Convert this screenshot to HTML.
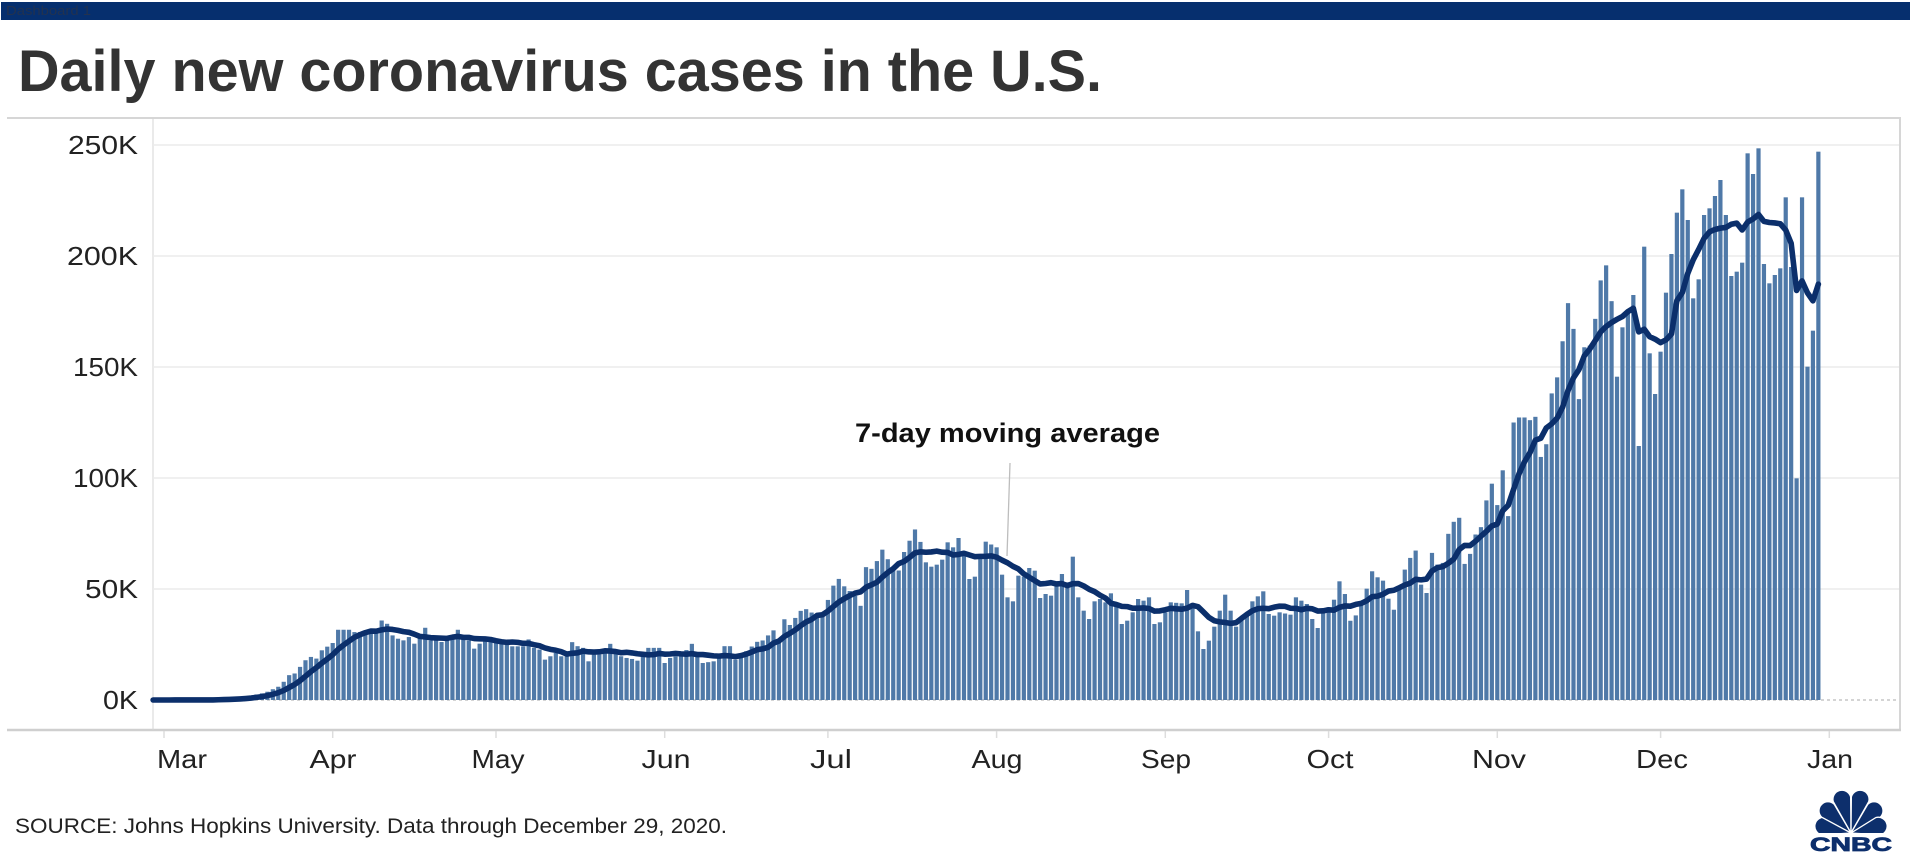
<!DOCTYPE html>
<html>
<head>
<meta charset="utf-8">
<title>Daily new coronavirus cases in the U.S.</title>
<style>
html,body{margin:0;padding:0;background:#fff;}
body{width:1910px;height:860px;overflow:hidden;}
svg{display:block;}
text{font-family:"Liberation Sans",Arial,sans-serif;}
</style>
</head>
<body>
<svg id="c" width="1910" height="860" viewBox="0 0 1910 860" xmlns="http://www.w3.org/2000/svg">
  <rect x="0" y="0" width="1910" height="860" fill="#ffffff"/>
  <!-- top bar -->
  <rect x="1" y="2" width="1909" height="18" fill="#062f6e"/>
  <text x="6" y="15" font-size="13" fill="#22324f" textLength="85" lengthAdjust="spacingAndGlyphs">Dashboard 1</text>

  <!-- title -->
  <text x="18" y="91" font-size="58" font-weight="bold" fill="#333333" textLength="1084" lengthAdjust="spacingAndGlyphs">Daily new coronavirus cases in the U.S.</text>

  <!-- frame -->
  <line x1="7" y1="118" x2="1901" y2="118" stroke="#d6d6d6" stroke-width="2"/>
  <line x1="1900" y1="118" x2="1900" y2="731" stroke="#d6d6d6" stroke-width="2"/>
  <line x1="7" y1="730" x2="1901" y2="730" stroke="#cfcfcf" stroke-width="2.5"/>
  <line x1="153" y1="118" x2="153" y2="730" stroke="#d4d4d4" stroke-width="1"/>

  <!-- gridlines -->
  <g stroke="#ececec" stroke-width="1.5">
    <line x1="153" y1="145" x2="1899" y2="145"/>
    <line x1="153" y1="256" x2="1899" y2="256"/>
    <line x1="153" y1="367" x2="1899" y2="367"/>
    <line x1="153" y1="478" x2="1899" y2="478"/>
    <line x1="153" y1="589" x2="1899" y2="589"/>
  </g>
  <line x1="153" y1="700" x2="1898" y2="700" stroke="#a8a8a8" stroke-width="1" stroke-dasharray="3,3"/>

  <!-- y labels -->
  <g font-size="26" fill="#222222" text-anchor="end">
    <text x="138" y="154" textLength="70" lengthAdjust="spacingAndGlyphs">250K</text>
    <text x="138" y="265" textLength="71" lengthAdjust="spacingAndGlyphs">200K</text>
    <text x="138" y="376" textLength="65" lengthAdjust="spacingAndGlyphs">150K</text>
    <text x="138" y="487" textLength="65" lengthAdjust="spacingAndGlyphs">100K</text>
    <text x="138" y="598" textLength="53" lengthAdjust="spacingAndGlyphs">50K</text>
    <text x="138" y="709" textLength="35" lengthAdjust="spacingAndGlyphs">0K</text>
  </g>

  <!-- month ticks -->
  <g stroke="#dddddd" stroke-width="1.5">
    <line x1="164" y1="731" x2="164" y2="738"/>
    <line x1="332.7" y1="731" x2="332.7" y2="738"/>
    <line x1="496" y1="731" x2="496" y2="738"/>
    <line x1="664.7" y1="731" x2="664.7" y2="738"/>
    <line x1="827.9" y1="731" x2="827.9" y2="738"/>
    <line x1="996.6" y1="731" x2="996.6" y2="738"/>
    <line x1="1165.3" y1="731" x2="1165.3" y2="738"/>
    <line x1="1328.6" y1="731" x2="1328.6" y2="738"/>
    <line x1="1497.3" y1="731" x2="1497.3" y2="738"/>
    <line x1="1660.6" y1="731" x2="1660.6" y2="738"/>
    <line x1="1829.3" y1="731" x2="1829.3" y2="738"/>
  </g>

  <!-- month labels -->
  <g font-size="26" fill="#222222">
    <text x="157" y="768" textLength="50" lengthAdjust="spacingAndGlyphs">Mar</text>
    <g text-anchor="middle">
      <text x="333" y="768" textLength="47" lengthAdjust="spacingAndGlyphs">Apr</text>
      <text x="498" y="768" textLength="53" lengthAdjust="spacingAndGlyphs">May</text>
      <text x="666" y="768" textLength="49" lengthAdjust="spacingAndGlyphs">Jun</text>
      <text x="831" y="768" textLength="42" lengthAdjust="spacingAndGlyphs">Jul</text>
      <text x="997" y="768" textLength="51" lengthAdjust="spacingAndGlyphs">Aug</text>
      <text x="1166" y="768" textLength="50" lengthAdjust="spacingAndGlyphs">Sep</text>
      <text x="1330" y="768" textLength="47" lengthAdjust="spacingAndGlyphs">Oct</text>
      <text x="1499" y="768" textLength="54" lengthAdjust="spacingAndGlyphs">Nov</text>
      <text x="1662" y="768" textLength="52" lengthAdjust="spacingAndGlyphs">Dec</text>
      <text x="1830" y="768" textLength="46" lengthAdjust="spacingAndGlyphs">Jan</text>
    </g>
  </g>

  <!-- bars and moving average (filled by script) -->
  <g id="bars" fill="#4f79a8"></g>
  <path id="ma" d="" fill="none" stroke="#0b2f6b" stroke-width="5.6" stroke-linejoin="round" stroke-linecap="round"/>

  <!-- annotation -->
  <line x1="1010" y1="463" x2="1007" y2="556" stroke="#bdbdbd" stroke-width="1.3"/>
  <text x="855" y="442" font-size="27" font-weight="bold" fill="#111111" textLength="305" lengthAdjust="spacingAndGlyphs">7-day moving average</text>

  <!-- source -->
  <text x="15" y="833" font-size="21" fill="#222222" textLength="712" lengthAdjust="spacingAndGlyphs">SOURCE: Johns Hopkins University. Data through December 29, 2020.</text>

  <!-- CNBC logo -->
  <defs>
    <clipPath id="lc"><rect x="1800" y="780" width="100" height="53"/></clipPath>
  </defs>
  <g clip-path="url(#lc)" fill="#0d2f6c" stroke="#ffffff" stroke-width="1.3">
    <path transform="translate(1851,833) rotate(-76)" d="M0,0 L-9,-28 A9,9 0 0 1 9,-28 Z"/>
    <path transform="translate(1851,833) rotate(-46)" d="M0,0 L-9,-32 A9,9 0 0 1 9,-32 Z"/>
    <path transform="translate(1851,833) rotate(-15)" d="M0,0 L-9,-35 A9,9 0 0 1 9,-35 Z"/>
    <path transform="translate(1851,833) rotate(15)" d="M0,0 L-9,-35 A9,9 0 0 1 9,-35 Z"/>
    <path transform="translate(1851,833) rotate(46)" d="M0,0 L-9,-32 A9,9 0 0 1 9,-32 Z"/>
    <path transform="translate(1851,833) rotate(76)" d="M0,0 L-9,-28 A9,9 0 0 1 9,-28 Z"/>
  </g>
  <text x="1810" y="851" font-size="19" font-weight="bold" fill="#0d2f6c" stroke="#0d2f6c" stroke-width="0.8" textLength="82" lengthAdjust="spacingAndGlyphs">CNBC</text>
</svg>

<script>
(function(){
  var NS = "http://www.w3.org/2000/svg";
  var X0 = 164, DX = 5.442, Y0 = 700, SY = 2.22;
  var Z = [
    [110, function(p){return (480-p)/335*50;}, [
      [465,455],[480,445],[500,440],[515,425],[530,405],[545,410],[560,400],[580,360],[595,350],[610,348],
      [625,355],[640,330],[660,308],[680,268],[695,268],[710,268],[725,263],[740,275],[760,275],[775,275],
      [795,270],[810,240],[825,250],[845,285],[860,295],[875,300],[890,290],[905,310],[920,290],[940,262],
      [955,300],[970,305],[985,300],[1000,305],[1020,285],[1035,257],[1050,268],[1070,300],[1085,325],[1100,318],
      [1115,310],[1130,298],[1150,295],[1165,250],[1180,305],[1200,318],[1215,318],[1230,318],[1245,318]
    ]],
    [500, function(p){return (595-p)/330*50;}, [
      [15,430],[30,440],[45,440],[60,440],[75,440],[90,415],[105,440],[120,445],[135,475],[150,465],
      [165,455],[180,465],[195,465],[210,423],[225,435],[245,440],[260,480],[275,460],[290,460],[305,445],
      [325,428],[340,445],[355,450],[370,465],[385,470],[400,473],[420,478],[435,455],[450,440],[470,440],
      [485,475],[500,485],[515,470],[530,465],[550,465],[570,428],[585,460],[600,478],[615,485],[635,480],
      [650,470],[665,445],[680,435],[695,435],[710,475],[730,465],[745,450],[765,422],[780,418],[795,395],
      [815,388],[830,420],[845,395],[860,355],[875,372],[895,330],[910,297],[925,325],[940,335],[960,340],
      [975,295],[995,255],[1010,235],[1025,257],[1040,295],[1060,285],[1075,315],[1090,200],[1110,205],[1125,182],
      [1140,148],[1155,195],[1175,205],[1190,210],[1205,155],[1220,150],[1240,88],[1255,125]
    ]],
    [900, function(p){return (868-p)/333*50;}, [
      [55,395],[70,455],[85,462],[95,468],[110,462],[125,447],[140,395],[155,410],[170,382],[185,430],
      [205,505],[220,498],[235,440],[250,393],[265,418],[285,410],[300,492],[315,560],[335,572],[350,495],
      [365,498],[380,472],[400,480],[415,562],[430,550],[445,555],[460,510],[480,490],[495,515],[515,438],
      [530,560],[545,600],[565,625],[580,572],[595,565],[610,575],[630,548],[645,585],[660,640],[675,630],
      [690,605],[710,565],[725,570],[740,560],[755,565],[770,640],[785,635],[805,575],[820,578],[840,578],
      [855,538],[870,582],[890,662],[905,715],[920,690],[935,648],[950,648],[970,552],[985,600],[1000,640],
      [1015,648],[1030,625],[1045,605],[1065,572],[1085,542],[1100,610],[1115,615],[1130,525],[1145,605],[1165,612],
      [1180,560],[1195,555],[1215,580],[1230,625],[1245,652],[1265,605],[1280,590]
    ]],
    [1320, function(p){return (1345-p)/332*50;}, [
      [22,1075],[40,1045],[57,990],[72,1028],[87,1108],[102,1092],[120,1062],[137,1012],[154,960],[170,978],
      [185,988],[202,1042],[218,1075],[235,1010],[250,955],[268,920],[285,898],[300,1000],[317,1025],[333,905],
      [350,940],[365,935],[380,848],[395,812],[412,800],[430,938],[447,908],[462,850],[480,828],[497,748],
      [512,698],[528,762],[545,658],[562,795],[580,515],[600,500],[612,500],[628,508],[643,498],[660,618],
      [677,580],[692,428],[707,380],[722,272],[740,158],[757,235],[775,445],[790,290],[807,285],[822,205],
      [838,90],[855,45],[872,152],[888,378]
    ]],
    [1590, function(p){return 250-(p-75)/333*50;}, [
      [95,622],[111,575],[128,525],[144,978],[158,380],[176,700],[193,822],[208,695],[222,518],[238,402],
      [255,278],[272,208],[290,300],[308,535],[322,478],[336,285],[352,265],[370,228],[388,180],[405,285],
      [422,468],[438,455],[452,428],[470,100],[487,162],[503,85],[522,432],[537,490],[552,465],[567,445],
      [585,232],[600,441],[617,1075],[633,232],[650,740],[665,632],[682,95]
    ]]
  ];
  var K0 = -2, K1 = 304, N = K1 - K0 + 1;
  var v = new Array(N);
  var early = [0.01,0.01,0.01,0.01,0.01,0.01,0.01,0.01,0.01,0.01,0.01,0.3,0.4,0.5,0.6,0.7,0.9,1.2,1.8,2.5,3.0];
  var i;
  for (i = 0; i < early.length; i++) v[i] = early[i];
  Z.forEach(function(z){
    z[2].forEach(function(p){
      var x = z[0] + p[0]/3;
      var k = Math.round((x - X0)/DX);
      var idx = k - K0;
      if (idx >= 0 && idx < N && v[idx] === undefined) v[idx] = Math.max(0, z[1](p[1]));
    });
  });
  for (i = 0; i < N; i++) {
    if (v[i] === undefined) {
      var a = i - 1; while (a >= 0 && v[a] === undefined) a--;
      var b = i + 1; while (b < N && v[b] === undefined) b++;
      var va = a >= 0 ? v[a] : 0;
      if (b >= N) { v[i] = va; }
      else { v[i] = va + (v[b] - va) * (i - a) / (b - a); }
    }
  }
  var g = document.getElementById("bars");
  for (i = 0; i < N; i++) {
    var k = i + K0;
    var h = v[i] * SY;
    if (h < 0.4) continue;
    var cx = X0 + DX * k;
    var r = document.createElementNS(NS, "rect");
    r.setAttribute("x", (cx - 2.1).toFixed(2));
    r.setAttribute("y", (Y0 - h).toFixed(2));
    r.setAttribute("width", "4.2");
    r.setAttribute("height", h.toFixed(2));
    g.appendChild(r);
  }
  var d = "";
  for (i = 0; i < N; i++) {
    var s = 0;
    for (var j = i - 6; j <= i; j++) { if (j >= 0) s += v[j]; }
    var m = s / 7;
    var x2 = X0 + DX * (i + K0);
    var y2 = Y0 - m * SY;
    d += (i === 0 ? "M" : "L") + x2.toFixed(2) + "," + y2.toFixed(2);
  }
  document.getElementById("ma").setAttribute("d", d);
})();
</script>
</body>
</html>
